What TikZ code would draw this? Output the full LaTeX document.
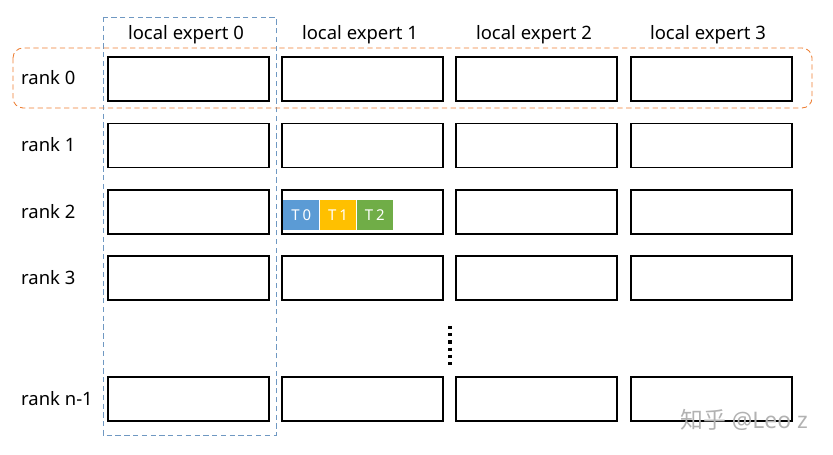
\documentclass[tikz,border=0pt]{standalone}
\usepackage{fontspec}
\setmainfont{Noto Sans}
\newfontfamily\cjkfont{Noto Sans CJK SC}
\usetikzlibrary{positioning}
\definecolor{tblue}{HTML}{5B9BD5}
\definecolor{tgold}{HTML}{FFC000}
\definecolor{tgreen}{HTML}{70AD47}
\definecolor{grporange}{HTML}{ED7D31}
\definecolor{grpblue}{HTML}{6F98C2}
\tikzset{
    slot/.style={draw, line width=0.75pt, minimum width=3.22cm, minimum height=0.88cm, inner sep=0pt},
    tok/.style={draw=none, minimum width=0.72cm, minimum height=0.6cm, inner sep=0pt, text=white,
        font=\fontsize{8.5}{9}\selectfont\addfontfeature{LetterSpace=20}},
    rowlabel/.style={anchor=west, font=\fontsize{10.5}{12}\selectfont},
    collabel/.style={font=\fontsize{10.5}{12}\selectfont}
}
\begin{document}
\begin{tikzpicture}[x=0.02cm, y=-0.02cm]
    \useasboundingbox (0,0) rectangle (833,455);
    % expert columns
    \node[collabel] (e0) at (186,35) {local expert 0};
    \node[collabel] (e1) at (360,35) {local expert 1};
    \node[collabel] (e2) at (534,35) {local expert 2};
    \node[collabel] (e3) at (708,35) {local expert 3};

    % ranks
    \node[rowlabel] (r0) at (15,78) {rank 0};
    \node[rowlabel] (r1) at (15,145) {rank 1};
    \node[rowlabel] (r2) at (15,212) {rank 2};
    \node[rowlabel] (r3) at (15,278) {rank 3};
    \node[rowlabel] (rn) at (15,399) {rank n-1};

    % slots of every rank
    \foreach \r/\y in {0/79, 1/145.5, 2/212, 3/278, n/399} {
        \foreach \c/\x in {0/188.5, 1/362.5, 2/536.5, 3/711.5} {
            \node[slot] (s\r\c) at (\x,\y) {};
        }
    }

    % tokens sent to rank 2, expert 1
    \node[tok, fill=tblue, anchor=west] (t0) at (283,215) {T0};
    \node[tok, fill=tgold, right=0pt of t0] (t1) {T1};
    \node[tok, fill=tgreen, right=0pt of t1] (t2) {T2};

    % groups
    \draw[grpblue, densely dashed, line width=0.5pt] (103,17) rectangle (276,435);
    \draw[grporange, densely dashed, line width=0.5pt, rounded corners=0.2cm] (13,48) rectangle (812,108);

    % more ranks
    \draw[line width=1.8pt, dash pattern=on 1.8pt off 2.3pt] (450,326) -- (450,367);

    \node[text=black!30, font=\fontsize{13}{15}\selectfont] (wm) at (744,420) {{\cjkfont 知乎} @Leo z};
\end{tikzpicture}
\end{document}
